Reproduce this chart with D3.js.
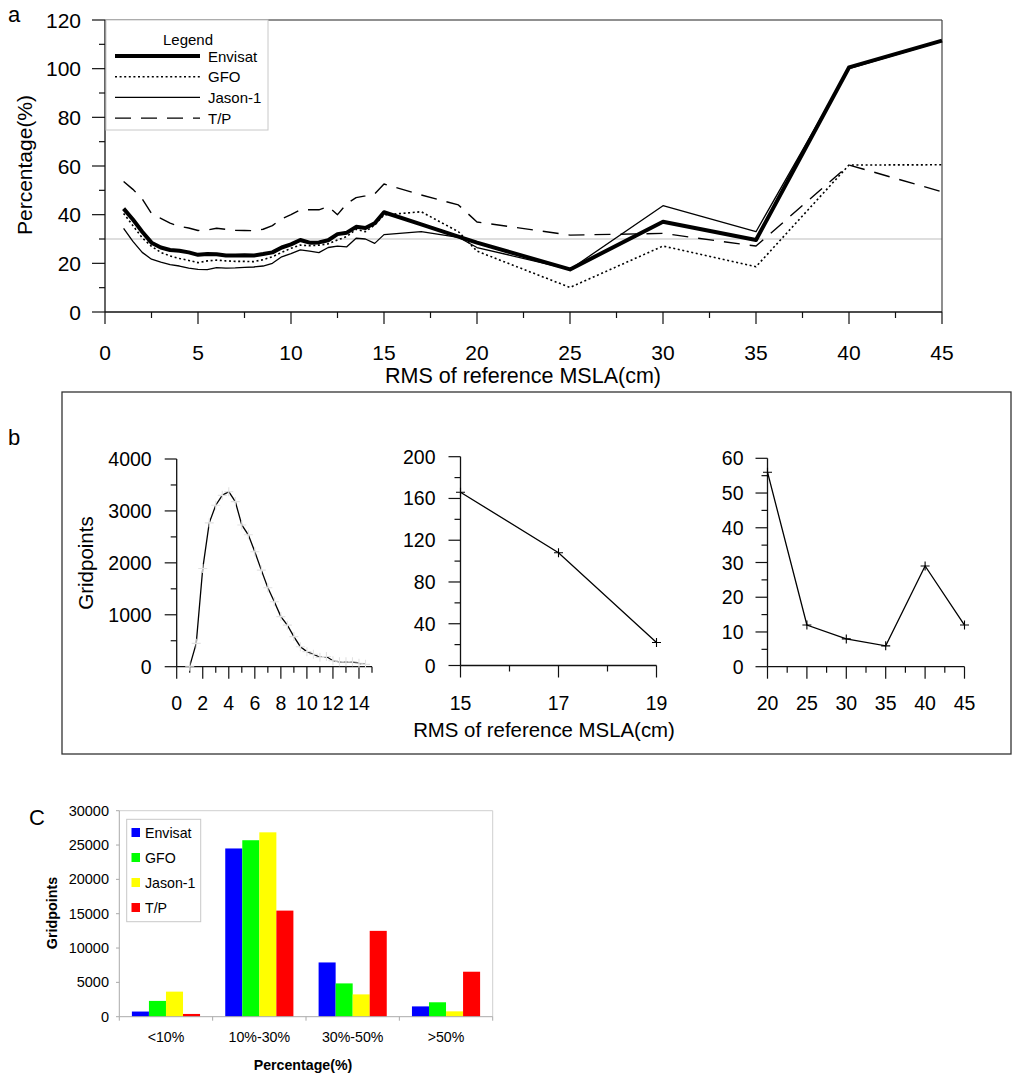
<!DOCTYPE html>
<html><head><meta charset="utf-8">
<script src="https://cdn.jsdelivr.net/npm/d3@7"></script>
<style>
body{margin:0;background:#fff;}
svg{display:block;font-family:"Liberation Sans",Arial,sans-serif;}
</style></head>
<body><svg id="c" width="1024" height="1081"></svg>
<script>
// ---------- Panel a data ----------
const rmsX = [1,1.5,2,2.5,3,3.5,4,4.5,5,5.5,6,6.5,7,7.5,8,8.5,9,9.5,10,10.5,11,11.5,12,12.5,13,13.5,14,14.5,15,17,19,20,25,30,35,40,45];
const envisatPct = [42.5,38,33,28.5,26.5,25.5,25.2,24.5,23.5,23.8,23.7,23.2,23.2,23.3,23.2,23.8,24.5,26.5,27.8,29.6,28.5,28.6,29.5,32,32.6,35,34.5,36.5,41,36,31,28.5,17.5,37.1,29.6,100.5,111.5];
const gfoPct = [40.5,35.5,30.5,27,24.5,23,22,21.2,20.3,21,21.3,21,20.8,20.8,20.7,21.5,22.7,24.5,26.2,27.5,27.2,27.5,28,29.6,31,34,33,35.8,39.9,41.2,33,25,10.1,27.1,18.6,60.4,60.5];
const jasonPct = [34.4,29,24.5,21.7,20.5,19.5,18.9,18,17.5,17.4,18.2,18,18.1,18.3,18.5,18.9,20,22.7,24,25.5,25,24.4,26.5,27.1,26.8,30.3,30,28.2,31.8,33,30.7,26.5,17.5,43.7,33,100,111.3];
const tpPct = [53.6,50.4,46.5,40.5,38.5,36.5,35.2,34.5,33.5,33.7,34.4,34,33.6,33.5,33.4,34,35.5,38.3,40,42,42,42,43.3,40,44.5,47,47.7,48.5,52.6,48.1,44,37,31.6,32.3,27.1,60.4,49.4];
const seriesNames = ["Envisat","GFO","Jason-1","T/P"];
const aXTicks = [0,5,10,15,20,25,30,35,40,45];
const aXMinor = [2.5,7.5,12.5,17.5,22.5,27.5,32.5,37.5,42.5];
const aYTicks = [0,20,40,60,80,100,120];
const aYMinor = [10,30,50,70,90,110];
const refLine = 30;

// ---------- Panel b data ----------
const b1X = [1,1.5,2,2.5,3,3.5,4,4.5,5,5.5,6,6.5,7,7.5,8,8.5,9,9.5,10,10.5,11,11.5,12,12.5,13,13.5,14,14.5];
const b1Y = [10,450,1890,2770,3110,3300,3370,3180,2730,2540,2215,1860,1520,1250,965,800,580,385,290,240,180,195,115,95,95,95,65,45];
const b2X = [15,17,19];
const b2Y = [166,108,22];
const b3X = [20,25,30,35,40,45];
const b3Y = [56,12,8,6,29,12];
const b1XTicks = [0,2,4,6,8,10,12,14], b1XMinor = [1,3,5,7,9,11,13,15];
const b1YTicks = [0,1000,2000,3000,4000], b1YMinor = [500,1500,2500,3500];
const b2XTicks = [15,17,19], b2XMinor = [16,18];
const b2YTicks = [0,40,80,120,160,200], b2YMinor = [20,60,100,140,180];
const b3XTicks = [20,25,30,35,40,45], b3XMinor = [22.5,27.5,32.5,37.5,42.5];
const b3YTicks = [0,10,20,30,40,50,60], b3YMinor = [5,15,25,35,45,55];

// ---------- Panel c data ----------
const cCategories = ["<10%","10%-30%","30%-50%",">50%"];
const cEnvisat = [750,24500,7900,1500];
const cGFO = [2300,25700,4850,2100];
const cJason = [3650,26850,3250,780];
const cTP = [400,15450,12500,6550];
const cColors = ["#0000ff","#00ff00","#ffff00","#ff0000"];
const cYTicks = [0,5000,10000,15000,20000,25000,30000];

const svg = d3.select("#c");

// ================= PANEL A =================
const ax = d3.scaleLinear().domain([0,45]).range([105,942]);
const ay = d3.scaleLinear().domain([0,120]).range([312,20]);
const gA = svg.append("g");
gA.append("text").attr("x",14).attr("y",14).attr("text-anchor","middle").attr("dominant-baseline","central").attr("font-size",22).text("a");
gA.append("line").attr("x1",ax(0)).attr("x2",ax(45)).attr("y1",ay(refLine)).attr("y2",ay(refLine)).attr("stroke","#bdbdbd").attr("stroke-width",1);
gA.append("line").attr("x1",ax(0)).attr("x2",ax(45)).attr("y1",ay(120)).attr("y2",ay(120)).attr("stroke","#222").attr("stroke-width",1.2);
gA.append("line").attr("x1",ax(45)).attr("x2",ax(45)).attr("y1",ay(120)).attr("y2",ay(0)).attr("stroke","#444").attr("stroke-width",1.2);
gA.append("line").attr("x1",ax(0)).attr("x2",ax(45)).attr("y1",ay(0)).attr("y2",ay(0)).attr("stroke","#111").attr("stroke-width",1.3);
gA.append("line").attr("x1",ax(0)).attr("x2",ax(0)).attr("y1",ay(120)).attr("y2",ay(0)).attr("stroke","#111").attr("stroke-width",1.3);
gA.selectAll(".ayt").data(aYTicks).join("line").attr("x1",ax(0)-13).attr("x2",ax(0)).attr("y1",d=>ay(d)).attr("y2",d=>ay(d)).attr("stroke","#111").attr("stroke-width",1.2);
gA.selectAll(".aym").data(aYMinor).join("line").attr("x1",ax(0)-6).attr("x2",ax(0)).attr("y1",d=>ay(d)).attr("y2",d=>ay(d)).attr("stroke","#111").attr("stroke-width",1.2);
gA.selectAll(".ayl").data(aYTicks).join("text").attr("x",ax(0)-24).attr("y",d=>ay(d)).attr("text-anchor","end").attr("dominant-baseline","central").attr("font-size",21).text(d=>d);
gA.selectAll(".axt").data(aXTicks).join("line").attr("x1",d=>ax(d)).attr("x2",d=>ax(d)).attr("y1",ay(0)).attr("y2",ay(0)+12).attr("stroke","#111").attr("stroke-width",1.2);
gA.selectAll(".axm").data(aXMinor).join("line").attr("x1",d=>ax(d)).attr("x2",d=>ax(d)).attr("y1",ay(0)).attr("y2",ay(0)+6).attr("stroke","#111").attr("stroke-width",1.2);
gA.selectAll(".axl").data(aXTicks).join("text").attr("x",d=>ax(d)).attr("y",352).attr("text-anchor","middle").attr("dominant-baseline","central").attr("font-size",21).text(d=>d);
gA.append("text").attr("x",523).attr("y",383).attr("text-anchor","middle").attr("font-size",21.5).text("RMS of reference MSLA(cm)");
gA.append("text").attr("transform","translate(32,165) rotate(-90)").attr("text-anchor","middle").attr("font-size",21).text("Percentage(%)");
const styles = [
  {w:4, dash:null},
  {w:1.6, dash:"2,2.6"},
  {w:1.3, dash:null},
  {w:1.4, dash:"16,10"}
];
const aSeries = [envisatPct,gfoPct,jasonPct,tpPct];
const lineA = d3.line().x(d=>ax(d[0])).y(d=>ay(d[1]));
aSeries.forEach((vals,i)=>{
  const pts = rmsX.map((x,j)=>[x,vals[j]]);
  gA.append("path").attr("d",lineA(pts)).attr("fill","none").attr("stroke","#000")
    .attr("stroke-width",styles[i].w).attr("stroke-dasharray",styles[i].dash).attr("stroke-linejoin","round");
});
const lg = gA.append("g");
lg.append("rect").attr("x",106).attr("y",20).attr("width",162).attr("height",110).attr("fill","#fff").attr("stroke","#c8c8c8").attr("stroke-width",1);
lg.append("text").attr("x",188).attr("y",39).attr("text-anchor","middle").attr("dominant-baseline","central").attr("font-size",15).text("Legend");
seriesNames.forEach((n,i)=>{
  const y = 56 + i*20.7;
  lg.append("line").attr("x1",115).attr("x2",200).attr("y1",y).attr("y2",y).attr("stroke","#000").attr("stroke-width",styles[i].w).attr("stroke-dasharray",styles[i].dash);
  lg.append("text").attr("x",208).attr("y",y).attr("dominant-baseline","central").attr("font-size",15).text(n);
});

// ================= PANEL B =================
const gB = svg.append("g");
gB.append("rect").attr("x",62).attr("y",392).attr("width",949).attr("height",362).attr("fill","none").attr("stroke","#333").attr("stroke-width",1.3);
gB.append("text").attr("x",14).attr("y",437).attr("text-anchor","middle").attr("dominant-baseline","central").attr("font-size",22).text("b");
const plus = "M-4.5,0H4.5M0,-4.5V4.5";
function smallPlot(xs, ys, xDom, xR, yDom, yR, xT, xM, yT, yM, markerColor, labelRight){
  const sx = d3.scaleLinear().domain(xDom).range(xR);
  const sy = d3.scaleLinear().domain(yDom).range(yR);
  const g = gB.append("g");
  g.append("line").attr("x1",xR[0]).attr("x2",xR[1]).attr("y1",yR[0]).attr("y2",yR[0]).attr("stroke","#111").attr("stroke-width",1.3);
  g.append("line").attr("x1",xR[0]).attr("x2",xR[0]).attr("y1",yR[0]).attr("y2",yR[1]).attr("stroke","#111").attr("stroke-width",1.3);
  g.selectAll(".t1").data(yT).join("line").attr("x1",xR[0]-12).attr("x2",xR[0]).attr("y1",d=>sy(d)).attr("y2",d=>sy(d)).attr("stroke","#111").attr("stroke-width",1.2);
  g.selectAll(".t2").data(yM).join("line").attr("x1",xR[0]-6).attr("x2",xR[0]).attr("y1",d=>sy(d)).attr("y2",d=>sy(d)).attr("stroke","#111").attr("stroke-width",1.2);
  g.selectAll(".t3").data(yT).join("text").attr("x",xR[0]-labelRight).attr("y",d=>sy(d)).attr("text-anchor","end").attr("dominant-baseline","central").attr("font-size",19.5).text(d=>d);
  g.selectAll(".t4").data(xT).join("line").attr("x1",d=>sx(d)).attr("x2",d=>sx(d)).attr("y1",yR[0]).attr("y2",yR[0]+12).attr("stroke","#111").attr("stroke-width",1.2);
  g.selectAll(".t5").data(xM).join("line").attr("x1",d=>sx(d)).attr("x2",d=>sx(d)).attr("y1",yR[0]).attr("y2",yR[0]+6).attr("stroke","#111").attr("stroke-width",1.2);
  g.selectAll(".t6").data(xT).join("text").attr("x",d=>sx(d)).attr("y",703).attr("text-anchor","middle").attr("dominant-baseline","central").attr("font-size",19.5).text(d=>d);
  const pts = xs.map((x,j)=>[x,ys[j]]);
  g.append("path").attr("d",d3.line().x(d=>sx(d[0])).y(d=>sy(d[1]))(pts)).attr("fill","none").attr("stroke","#000").attr("stroke-width",1.3);
  g.selectAll(".m").data(pts).join("path").attr("d",plus).attr("transform",d=>`translate(${sx(d[0])},${sy(d[1])})`).attr("stroke",markerColor).attr("stroke-width",1.1).attr("fill","none");
}
smallPlot(b1X,b1Y,[0,15],[176.7,372],[0,4000],[666.7,459],b1XTicks,b1XMinor,b1YTicks,b1YMinor,"#e2e2e2",25);
smallPlot(b2X,b2Y,[15,19],[460.5,656.5],[0,200],[665.5,456.7],b2XTicks,b2XMinor,b2YTicks,b2YMinor,"#000",25);
smallPlot(b3X,b3Y,[20,45],[767.5,964.5],[0,60],[666.7,458.3],b3XTicks,b3XMinor,b3YTicks,b3YMinor,"#000",24);
gB.append("text").attr("transform","translate(93,563) rotate(-90)").attr("text-anchor","middle").attr("font-size",20.5).text("Gridpoints");
gB.append("text").attr("x",544).attr("y",737).attr("text-anchor","middle").attr("font-size",20.4).text("RMS of reference MSLA(cm)");

// ================= PANEL C =================
const gC = svg.append("g");
const cx = d3.scaleBand().domain(cCategories).range([119.3,492.7]).padding(0);
const cSub = d3.scaleBand().domain(seriesNames).range([12.6, cx.bandwidth()-12.6]).padding(0);
const cy = d3.scaleLinear().domain([0,30000]).range([1016.7,810.7]);
gC.append("text").attr("x",37).attr("y",817).attr("text-anchor","middle").attr("dominant-baseline","central").attr("font-size",22).text("C");
gC.append("line").attr("x1",119.3).attr("x2",492.7).attr("y1",cy(30000)).attr("y2",cy(30000)).attr("stroke","#cfcfcf");
gC.append("line").attr("x1",492.7).attr("x2",492.7).attr("y1",cy(30000)).attr("y2",cy(0)).attr("stroke","#cfcfcf");
gC.append("line").attr("x1",119.3).attr("x2",119.3).attr("y1",cy(30000)).attr("y2",cy(0)).attr("stroke","#aaa");
gC.selectAll(".cyt").data(cYTicks).join("line").attr("x1",116).attr("x2",119.3).attr("y1",d=>cy(d)).attr("y2",d=>cy(d)).attr("stroke","#aaa");
gC.selectAll(".cyl").data(cYTicks).join("text").attr("x",109).attr("y",d=>cy(d)).attr("text-anchor","end").attr("dominant-baseline","central").attr("font-size",14.5).text(d=>d);
const cSeries = [cEnvisat,cGFO,cJason,cTP];
cSeries.forEach((vals,i)=>{
  gC.selectAll(".bar"+i).data(cCategories.map((c,j)=>({c,v:vals[j]}))).join("rect")
    .attr("x",d=>cx(d.c)+cSub(seriesNames[i])).attr("width",cSub.bandwidth())
    .attr("y",d=>cy(d.v)).attr("height",d=>cy(0)-cy(d.v)).attr("fill",cColors[i]);
});
gC.append("line").attr("x1",119.3).attr("x2",492.7).attr("y1",cy(0)).attr("y2",cy(0)).attr("stroke","#aaa");
const edges = cCategories.map(c=>cx(c)).concat([cx(cCategories[cCategories.length-1])+cx.bandwidth()]);
gC.selectAll(".cxt").data(edges).join("line").attr("x1",d=>d).attr("x2",d=>d).attr("y1",cy(0)).attr("y2",cy(0)+4).attr("stroke","#aaa");
gC.selectAll(".cxl").data(cCategories).join("text").attr("x",d=>cx(d)+cx.bandwidth()/2).attr("y",1037).attr("text-anchor","middle").attr("dominant-baseline","central").attr("font-size",14.2).text(d=>d);
gC.append("text").attr("x",303).attr("y",1065).attr("text-anchor","middle").attr("dominant-baseline","central").attr("font-size",14.2).attr("font-weight","bold").text("Percentage(%)");
gC.append("text").attr("transform","translate(52,913) rotate(-90)").attr("text-anchor","middle").attr("dominant-baseline","central").attr("font-size",14.3).attr("font-weight","bold").text("Gridpoints");
gC.append("rect").attr("x",126.7).attr("y",819.3).attr("width",74).attr("height",102.4).attr("fill","#fff").attr("stroke","#c8c8c8");
seriesNames.forEach((n,i)=>{
  const y = 832.5 + i*25;
  gC.append("rect").attr("x",131.5).attr("y",y-4.5).attr("width",8.5).attr("height",9).attr("fill",cColors[i]);
  gC.append("text").attr("x",145).attr("y",y).attr("dominant-baseline","central").attr("font-size",14.2).text(n);
});
</script></body></html>
